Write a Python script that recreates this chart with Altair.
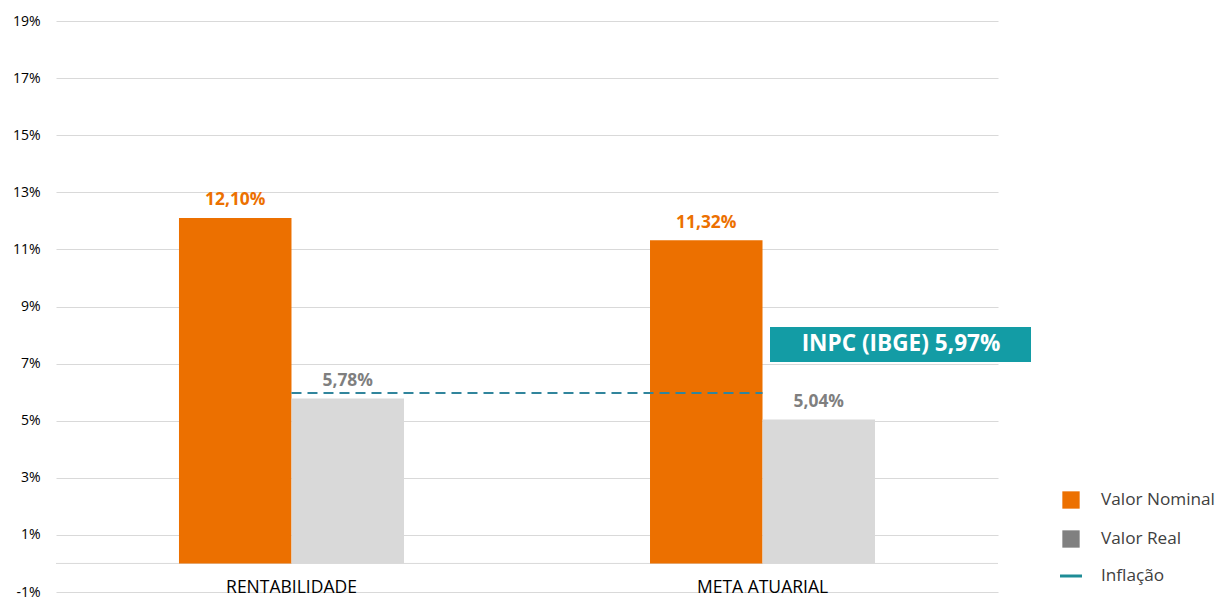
import altair as alt
import pandas as pd

# ---- data ----
categories = ["RENTABILIDADE", "META ATUARIAL"]
series = ["Valor Nominal", "Valor Real"]
nominal = [12.10, 11.32]
real = [5.78, 5.04]
inflation = 5.97
inflation_label = "INPC (IBGE) 5,97%"
y_ticks = [-1, 1, 3, 5, 7, 9, 11, 13, 15, 17, 19]
legend_labels = ["Valor Nominal", "Valor Real", "Inflação"]

ORANGE = "#EC7000"
GRAY_BAR = "#D9D9D9"
GRAY_TXT = "#7F7F7F"
GRAY_LEG = "#808080"
TEAL = "#31859C"
TEAL_LEG = "#1E8C96"
BOX = "#139CA5"
FONT = "Open Sans"

rows = []
for i, c in enumerate(categories):
    rows.append({"cat": c, "serie": series[0], "value": nominal[i]})
    rows.append({"cat": c, "serie": series[1], "value": real[i]})
df = pd.DataFrame(rows)

W, H = 942, 571

xscale = alt.Scale(domain=categories, paddingInner=0.5223, paddingOuter=0.2611)
yscale = alt.Scale(domain=[-1, 19], nice=False, zero=False)

base = alt.Chart(df)

bars = base.mark_bar().encode(
    x=alt.X("cat:N", sort=categories, scale=xscale, axis=None),
    xOffset=alt.XOffset("serie:N", sort=series, scale=alt.Scale(domain=series, paddingInner=0, paddingOuter=0)),
    y=alt.Y(
        "value:Q",
        scale=yscale,
        axis=alt.Axis(
            values=y_ticks,
            labelExpr="datum.value + '%'",
            domain=False,
            ticks=False,
            grid=True,
            gridColor="#D9D9D9",
            gridWidth=1,
            labelFontSize=14,
            labelColor="#000000",
            labelFont=FONT,
            labelPadding=16,
            title=None,
        ),
    ),
    color=alt.Color("serie:N", scale=alt.Scale(domain=series, range=[ORANGE, GRAY_BAR]), legend=None),
)

labels = base.transform_calculate(
    lab="replace(format(datum.value, '.2f'), '.', ',') + '%'"
).mark_text(baseline="alphabetic", dy=-12.5, fontWeight="bold", fontSize=17.4, font=FONT).encode(
    x=alt.X("cat:N", sort=categories, scale=xscale, axis=None),
    xOffset=alt.XOffset("serie:N", sort=series),
    y=alt.Y("value:Q", scale=yscale),
    text="lab:N",
    color=alt.condition(alt.datum.serie == "Valor Nominal", alt.value(ORANGE), alt.value(GRAY_TXT)),
)

zero_line = alt.Chart(pd.DataFrame({"v": [0]})).mark_rule(color="#D9D9D9", strokeWidth=1).encode(
    y=alt.Y("v:Q", scale=yscale)
)

infl_df = pd.DataFrame({"start": [categories[0]], "end": [categories[1]], "value": [inflation]})
infl_line = alt.Chart(infl_df).mark_rule(color=TEAL, strokeWidth=2, strokeDash=[10, 6]).encode(
    x=alt.X("start:N", sort=categories, scale=xscale, axis=None),
    x2="end:N",
    y=alt.Y("value:Q", scale=yscale),
)

cat_df = pd.DataFrame({"cat": categories, "yv": [-1, -1]})
cat_labels = alt.Chart(cat_df).mark_text(baseline="alphabetic", dy=1, fontSize=17.5, font=FONT, color="#000000").encode(
    x=alt.X("cat:N", sort=categories, scale=xscale, axis=None),
    y=alt.Y("yv:Q", scale=yscale),
    text="cat:N",
)

box_df = pd.DataFrame({"top": [8.28], "bot": [7.06], "mid": [7.67], "txt": [inflation_label]})
box = alt.Chart(box_df).mark_rect(color=BOX).encode(
    x=alt.value(714), x2=alt.value(975),
    y=alt.Y("top:Q", scale=yscale), y2="bot:Q",
)
box_text = alt.Chart(box_df).mark_text(color="white", fontWeight="bold", fontSize=22.6, font=FONT, baseline="middle").encode(
    x=alt.value(845), y=alt.Y("mid:Q", scale=yscale), text="txt:N"
)

leg_layers = []
leg_colors = [ORANGE, GRAY_LEG]
leg_y = [479, 518, 555]
for i in range(2):
    d = pd.DataFrame({"lab": [legend_labels[i]]})
    leg_layers.append(alt.Chart(d).mark_square(size=300, color=leg_colors[i], opacity=1).encode(
        x=alt.value(1015), y=alt.value(leg_y[i])))
d = pd.DataFrame({"lab": [legend_labels[2]]})
leg_layers.append(alt.Chart(d).mark_rule(color=TEAL_LEG, strokeWidth=3).encode(
    x=alt.value(1004), x2=alt.value(1026), y=alt.value(leg_y[2])))
for i in range(3):
    d = pd.DataFrame({"lab": [legend_labels[i]]})
    leg_layers.append(alt.Chart(d).mark_text(align="left", baseline="middle", fontSize=17.2, font=FONT, color="#404040").encode(
        x=alt.value(1045), y=alt.value(leg_y[i]), text="lab:N"))

chart = alt.layer(
    zero_line, bars, labels, infl_line, cat_labels, box, box_text, *leg_layers
).properties(
    width=W, height=H,
    autosize=alt.AutoSizeParams(type="none"),
    padding={"left": 48, "top": 13, "right": 220, "bottom": 12},
    background="white",
).configure_view(stroke=None)

chart.save("out.html", embed_options={"renderer": "svg", "actions": False})
